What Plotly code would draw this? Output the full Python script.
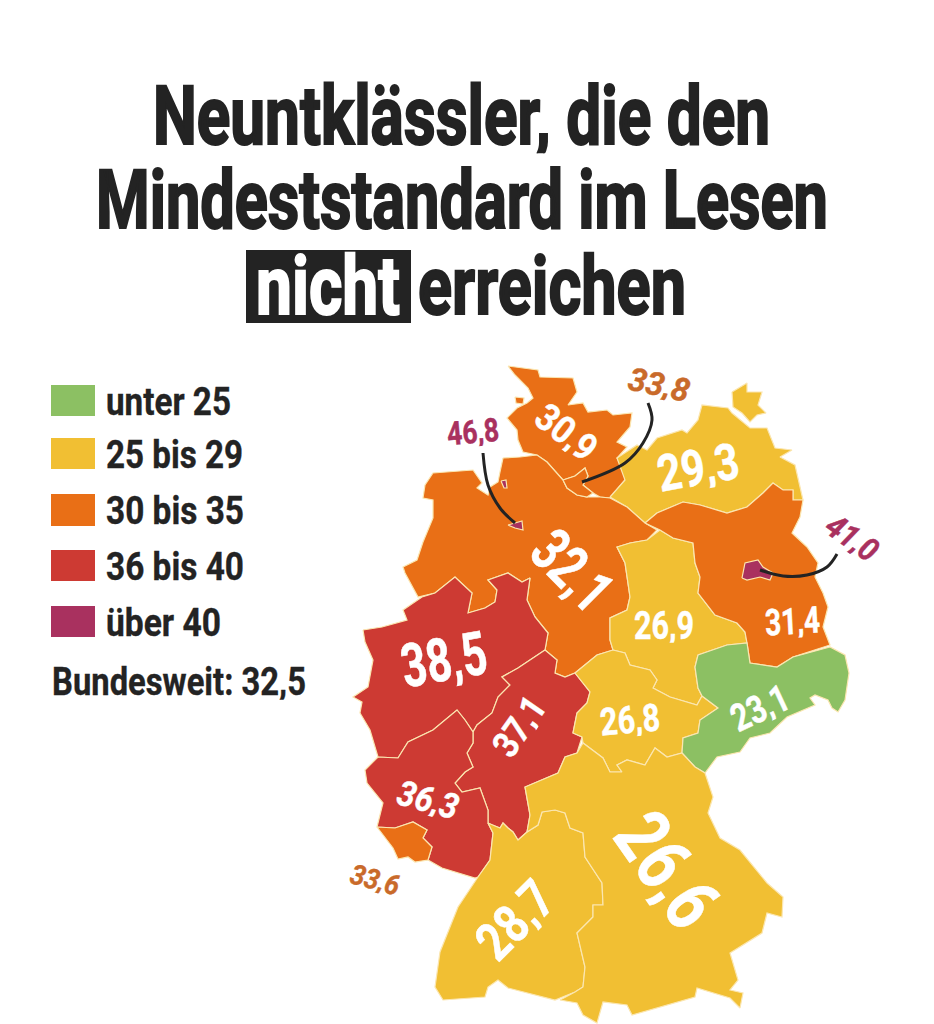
import json
import plotly.graph_objects as go

# ---------- data ----------
STATES = ["Schleswig-Holstein", "Mecklenburg-Vorpommern", "Niedersachsen", "Sachsen-Anhalt", "Brandenburg",
          "Nordrhein-Westfalen", "Hessen", "Rheinland-Pfalz", "Saarland", "Thüringen", "Sachsen",
          "Baden-Württemberg", "Bayern", "Hamburg", "Bremen", "Berlin"]
VALUES = [30.9, 29.3, 32.1, 26.9, 31.4, 38.5, 37.1, 36.3, 33.6, 26.8, 23.1, 28.7, 26.6, 33.8, 46.8, 41.0]
NATIONAL = 32.5

LEGEND_LABELS = ["unter 25", "25 bis 29", "30 bis 35", "36 bis 40", "über 40"]
LEGEND_COLORS = ["#8cc063", "#f1bf33", "#e96f16", "#cd3a33", "#a9315f"]
BIN_UPPER = [25, 30, 36, 40.5, 100]

OUTLINES = {
"Schleswig-Holstein": [(508,366),(538,370),(540,377),(573,378),(577,392),(568,405),(583,403),(588,412),(607,410),(613,415),(632,413),(630,427),(617,442),(627,447),(617,458),(623,468),(625,480),(610,498),(600,497),(593,493),(583,485),(588,476),(585,468),(575,476),(563,480),(547,462),(537,455),(523,452),(518,440),(517,430),(507,418),(517,408),(527,403),(533,398),(528,388),(515,375),None,(515,397),(524,398),(523,404),(516,403)],
"Mecklenburg-Vorpommern": [(610,497),(625,480),(617,458),(637,445),(647,450),(657,438),(682,430),(687,433),(698,420),(702,405),(728,408),(732,413),(750,428),(767,428),(775,448),(792,450),(780,457),(795,465),(803,500),(793,500),(793,490),(783,490),(773,483),(763,493),(747,507),(727,513),(700,505),(683,502),(657,513),(645,523),(627,507),None,(732,392),(747,383),(747,392),(762,392),(758,405),(766,413),(757,415),(750,422),(742,413),(733,407)],
"Niedersachsen": [(503,458),(520,457),(537,455),(547,462),(563,480),(567,488),(577,495),(587,497),(600,497),(610,498),(627,507),(645,523),(657,530),(647,540),(630,543),(617,547),(625,563),(628,583),(630,597),(627,610),(610,618),(610,640),(613,650),(597,655),(575,673),(565,677),(555,673),(557,660),(545,650),(548,633),(535,617),(527,600),(530,578),(522,582),(508,573),(488,580),(497,590),(495,602),(485,608),(468,613),(472,593),(455,577),(435,593),(418,597),(405,573),(403,567),(417,560),(423,542),(433,518),(433,500),(423,498),(425,485),(433,473),(473,470),(482,483),(477,488),(488,495),(490,487),(498,482),(500,472)],
"Sachsen-Anhalt": [(660,530),(647,540),(630,543),(617,547),(625,563),(628,583),(630,597),(627,610),(610,618),(610,640),(613,650),(625,653),(630,665),(650,670),(657,680),(653,688),(670,697),(697,705),(702,696),(698,688),(695,667),(698,655),(727,645),(747,643),(745,632),(737,623),(715,615),(698,593),(700,577),(695,563),(693,543),(673,538)],
"Brandenburg": [(645,523),(657,513),(683,502),(700,505),(727,513),(747,507),(763,493),(773,483),(783,490),(793,490),(793,500),(803,500),(800,517),(792,533),(807,547),(818,563),(815,577),(823,593),(828,607),(823,627),(830,645),(793,657),(777,667),(750,663),(747,643),(745,632),(737,623),(715,615),(698,593),(700,577),(695,563),(693,543),(673,538),(660,530)],
"Nordrhein-Westfalen": [(363,630),(382,627),(407,620),(403,610),(422,597),(435,593),(455,577),(472,593),(468,613),(485,608),(495,602),(497,590),(488,580),(508,573),(522,582),(530,578),(527,600),(535,617),(548,633),(545,650),(527,662),(518,668),(502,677),(510,685),(498,697),(492,713),(477,725),(473,732),(465,720),(457,710),(433,730),(408,742),(398,758),(378,757),(370,730),(360,713),(362,702),(353,697),(368,687),(373,660),(365,642)],
"Hessen": [(473,732),(477,725),(492,713),(498,697),(510,685),(502,677),(518,668),(527,662),(545,650),(557,660),(555,673),(565,677),(575,673),(590,692),(587,703),(577,713),(573,733),(582,737),(577,753),(565,757),(558,773),(525,787),(527,800),(530,815),(527,832),(518,840),(513,832),(508,828),(503,823),(500,828),(492,825),(488,823),(488,810),(480,788),(462,792),(455,783),(465,772),(473,767),(467,753),(473,743)],
"Rheinland-Pfalz": [(378,757),(398,758),(408,742),(433,730),(457,710),(465,720),(473,732),(473,743),(467,753),(473,767),(465,772),(455,783),(462,792),(480,788),(488,810),(488,823),(493,833),(490,860),(478,877),(475,878),(442,868),(428,860),(432,847),(423,838),(427,830),(413,822),(395,828),(377,827),(383,803),(367,783),(365,770)],
"Saarland": [(377,827),(395,828),(413,822),(427,830),(423,838),(432,847),(428,860),(415,862),(408,857),(398,859),(393,848),(385,837)],
"Thüringen": [(575,673),(597,655),(613,650),(625,653),(630,665),(650,670),(657,680),(653,688),(670,697),(697,705),(702,696),(718,708),(700,720),(698,733),(683,738),(682,753),(667,757),(655,748),(645,765),(627,760),(617,765),(622,772),(610,772),(603,758),(583,743),(582,737),(573,733),(577,713),(587,703),(590,692)],
"Sachsen": [(698,655),(727,645),(747,643),(750,663),(777,667),(793,657),(830,647),(845,655),(849,673),(845,700),(838,712),(832,708),(828,700),(815,695),(810,698),(815,705),(787,717),(770,733),(750,738),(740,752),(717,757),(705,773),(695,767),(682,753),(683,738),(698,733),(700,720),(718,708),(702,696),(698,688),(695,667)],
"Baden-Württemberg": [(478,877),(458,907),(440,952),(435,987),(443,1000),(485,997),(488,987),(498,980),(508,988),(555,1000),(575,992),(583,987),(585,967),(577,933),(593,917),(593,905),(603,905),(602,883),(585,857),(583,833),(570,828),(565,813),(555,810),(542,812),(538,825),(527,832),(518,840),(513,832),(508,828),(503,823),(500,828),(492,825),(488,823),(493,833),(490,860)],
"Bayern": [(695,767),(705,773),(713,797),(708,813),(720,838),(740,850),(767,883),(783,897),(782,917),(767,913),(762,933),(730,953),(738,980),(730,990),(743,993),(740,1008),(730,998),(697,988),(695,997),(650,1010),(632,1015),(627,1005),(603,1002),(597,1023),(583,1015),(577,1003),(560,1000),(575,992),(583,987),(585,967),(577,933),(593,917),(593,905),(603,905),(602,883),(585,857),(583,833),(570,828),(565,813),(555,810),(542,812),(538,825),(527,832),(530,815),(527,800),(525,787),(558,773),(565,757),(577,753),(583,743),(603,758),(610,772),(622,772),(617,765),(627,760),(645,765),(655,748),(667,757),(682,753)],
"Hamburg": [(563,480),(575,476),(585,468),(588,476),(583,485),(593,493),(587,497),(577,495),(567,488)],
"Bremen": [(508,525),(522,521),(523,530),(515,528),None,(501,481),(506,480),(507,488),(504,488)],
"Berlin": [(742,578),(745,563),(758,560),(763,567),(773,573),(770,580),(760,577),(747,580)],
}

LEADERS = {
"Hamburg": [(648,403),(652,420),(643,443),(625,463),(582,482)],
"Bremen": [(483,453),(488,485),(500,508),(515,523)],
"Berlin": [(837,554),(827,567),(807,575),(783,576),(760,570)],
}

# Label placement: centre x, centre y, cap height, length along baseline, angle, colour ("" = white), italic
LABEL_STYLE = {
"Schleswig-Holstein": (566,432,27,67,38,"",False),
"Mecklenburg-Vorpommern": (698,467,36,82,-10,"",False),
"Niedersachsen": (572,571,43,86,45,"",False),
"Sachsen-Anhalt": (664,626,27,60,0,"",False),
"Brandenburg": (792,621,26,55,-3,"",False),
"Nordrhein-Westfalen": (444,660,43,86,-10,"",False),
"Hessen": (519,726,26,64,-55,"",False),
"Rheinland-Pfalz": (428,800,25,62,15,"",True),
"Saarland": (375,880,20,50,15,"#c96a2a",True),
"Thüringen": (630,720,27,60,-5,"",False),
"Sachsen": (760,708,27,60,-25,"",False),
"Baden-Württemberg": (515,920,38,86,-45,"",False),
"Bayern": (667,870,55,120,55,"",False),
"Hamburg": (659,385,23,62,12,"#c96a2a",True),
"Bremen": (473,432,23,52,-5,"#a9315f",False),
"Berlin": (852,538,23,56,35,"#a9315f",True),
}

TITLE_ROWS = [("Neuntklässler, die den", 153, 617, 116), ("Mindeststandard im Lesen", 96, 732, 200)]
TITLE_NOT = ("nicht", 256, 144, 286)
TITLE_TAIL = ("erreichen", 418, 268, 286)
LEGEND_WIDTHS = [125, 137, 138, 138, 115]
NATIONAL_WIDTH = 254

INK = "#232323"
BORDER = "#fbe6b0"
FONT = "Roboto"
CAP = 0.711


def de(v):
    return f"{v:.1f}".replace(".", ",")


def color_of(v):
    for upper, col in zip(BIN_UPPER, LEGEND_COLORS):
        if v < upper:
            return col
    return LEGEND_COLORS[-1]


def rings(pts):
    out, cur = [], []
    for p in pts:
        if p is None:
            out.append(cur)
            cur = []
        else:
            cur.append(p)
    out.append(cur)
    return out


fig = go.Figure()

for state, value in zip(STATES, VALUES):
    xs, ys = [], []
    for ring in rings(OUTLINES[state]):
        xs += [p[0] for p in ring] + [ring[0][0], None]
        ys += [p[1] for p in ring] + [ring[0][1], None]
    fig.add_trace(go.Scatter(
        x=xs, y=ys, mode="lines", fill="toself", fillcolor=color_of(value),
        line=dict(color=BORDER, width=1.2), name=state,
        hoverinfo="text", text=f"{state}: {de(value)}", showlegend=False))

for state, pts in LEADERS.items():
    fig.add_trace(go.Scatter(
        x=[p[0] for p in pts], y=[p[1] for p in pts], mode="lines",
        line=dict(color=INK, width=3, shape="spline", smoothing=1.0),
        hoverinfo="skip", showlegend=False))

annotations, fit = [], []


def label(text, x, y, cap, length, color=INK, angle=0, italic=False, stroke=0.0):
    annotations.append(dict(
        x=x, y=y, xref="x", yref="y", text=text, showarrow=False, textangle=angle,
        xanchor="center", yanchor="middle", align="center", valign="middle",
        width=length + 2, height=round(cap * 1.2), borderpad=0,
        font=dict(family=FONT, size=cap / CAP, color=color, weight="bold",
                  style="italic" if italic else "normal")))
    fit.append(dict(w=length, s=stroke))


for state, value in zip(STATES, VALUES):
    x, y, cap, length, angle, col, ital = LABEL_STYLE[state]
    label(de(value), x, y, cap, length, col or "#ffffff", angle, ital, 0.4)

for text, left, width, y in TITLE_ROWS:
    label(text, left + width / 2, y, 58, width, stroke=1.6)
label(TITLE_NOT[0], TITLE_NOT[1] + TITLE_NOT[2] / 2, TITLE_NOT[3], 58, TITLE_NOT[2], "#ffffff", stroke=1.6)
label(TITLE_TAIL[0], TITLE_TAIL[1] + TITLE_TAIL[2] / 2, TITLE_TAIL[3], 58, TITLE_TAIL[2], stroke=1.6)

shapes = [dict(type="rect", x0=246, x1=411, y0=250, y1=323, xref="x", yref="y",
               fillcolor=INK, line=dict(width=0), layer="below")]
LEGEND_ROWS = [(385, 416), (438, 469), (494, 526), (550, 581), (606, 637)]
for (y0, y1), col, text, w in zip(LEGEND_ROWS, LEGEND_COLORS, LEGEND_LABELS, LEGEND_WIDTHS):
    shapes.append(dict(type="rect", x0=51, x1=95, y0=y0, y1=y1, xref="x", yref="y",
                       fillcolor=col, line=dict(width=0)))
    label(text, 106 + w / 2, (y0 + y1) / 2 + 1, 28, w, stroke=0.3)
label(f"Bundesweit: {de(NATIONAL)}", 52 + NATIONAL_WIDTH / 2, 682, 28, NATIONAL_WIDTH, stroke=0.3)

# the page body has an 8 px margin, so the axes start at 8
fig.update_layout(
    width=934, height=1024, margin=dict(l=0, r=0, t=0, b=0),
    paper_bgcolor="#ffffff", plot_bgcolor="#ffffff", showlegend=False,
    xaxis=dict(range=[8, 942], visible=False, fixedrange=True),
    yaxis=dict(range=[1032, 8], visible=False, fixedrange=True),
    annotations=annotations, shapes=shapes)

# No condensed font is installed: set the text at the size that gives the measured width,
# then stretch it upward about its baseline to the measured cap height.
post = """
var FIT = %s;
document.querySelectorAll('.annotation').forEach(function (g) {
  var f = FIT[+g.getAttribute('data-index')], t = g.querySelector('text');
  if (!f || !t) return;
  var size = parseFloat(getComputedStyle(t).fontSize), natural = t.getComputedTextLength();
  var small = size * f.w / natural, k = size / small;
  t.style.fontSize = small + 'px';
  var x = parseFloat(t.getAttribute('x')) || 0, y = parseFloat(t.getAttribute('y')) || 0;
  t.setAttribute('transform', 'translate(' + x + ',' + y + ') scale(1,' + k + ') translate(' + (-x) + ',' + (-y) + ')');
  if (f.s) { t.style.stroke = t.style.fill; t.style.strokeWidth = f.s + 'px'; }
});
""" % json.dumps(fit)

fig.write_html("out.html", config={"displayModeBar": False}, post_script=post)
